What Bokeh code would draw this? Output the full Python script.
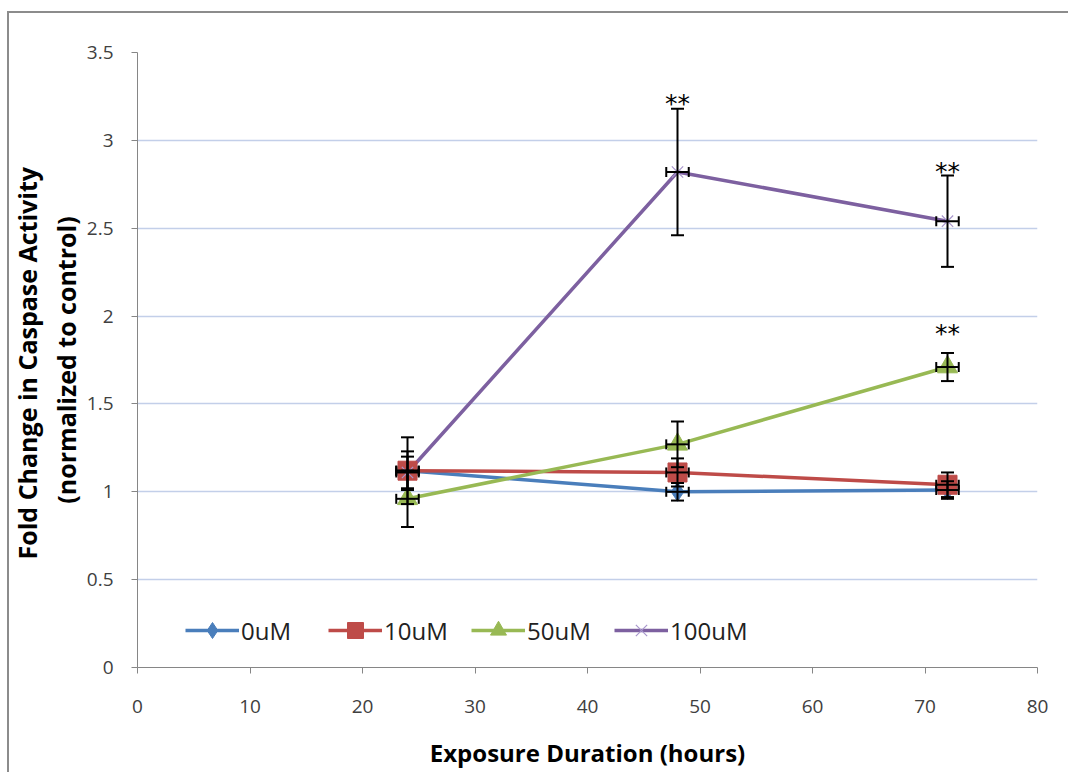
from bokeh.plotting import figure
from bokeh.models import (ColumnDataSource, Whisker, TeeHead, FixedTicker, Legend,
                          LegendItem, Range1d)
from bokeh.embed import file_html
from bokeh.resources import INLINE
from bokeh.core.properties import value

# ---------------- data ----------------
hours = [24, 48, 72]
hour_err = [1, 1, 1]

uM0 = [1.12, 1.00, 1.01]
uM0_err = [0.11, 0.05, 0.05]
uM10 = [1.12, 1.11, 1.04]
uM10_err = [0.19, 0.08, 0.07]
uM50 = [0.96, 1.27, 1.71]
uM50_err = [0.16, 0.13, 0.08]
uM100 = [1.11, 2.82, 2.54]
uM100_err = [0.09, 0.36, 0.26]

series_names = ["0uM", "10uM", "50uM", "100uM"]

sig_x = [48, 72, 72]
sig_y = [3.21, 2.82, 1.90]
sig_text = ["**", "**", "**"]

y_ticks = [0, 0.5, 1, 1.5, 2, 2.5, 3, 3.5]
y_tick_labels = ["0", "0.5", "1", "1.5", "2", "2.5", "3", "3.5"]
x_ticks = [0, 10, 20, 30, 40, 50, 60, 70, 80]

# ---------------- figure ----------------
FONT = "Open Sans"
p = figure(width=1068, height=772, output_backend="svg", toolbar_location=None,
           x_range=Range1d(0, 80), y_range=Range1d(0, 3.5),
           min_border_left=137, min_border_right=31, min_border_top=52,
           min_border_bottom=105)
p.outline_line_color = None
p.background_fill_color = "white"
p.border_fill_color = None
p.styles = {
    "background": ("linear-gradient(#8c8c8c,#8c8c8c) 7px 11px / 2px calc(100% - 11px) no-repeat, "
                   "linear-gradient(#8c8c8c,#8c8c8c) 7px 11px / calc(100% - 7px) 2px no-repeat, "
                   "white")
}

p.xgrid.grid_line_color = None
p.ygrid.grid_line_color = "#c3cfe9"
p.ygrid.grid_line_width = 1.5
p.ygrid.ticker = FixedTicker(ticks=y_ticks)

p.yaxis.ticker = FixedTicker(ticks=y_ticks)
p.yaxis.major_label_overrides = {t: l for t, l in zip(y_ticks, y_tick_labels)}
p.xaxis.ticker = FixedTicker(ticks=x_ticks)

for ax in (p.xaxis[0], p.yaxis[0]):
    ax.axis_line_color = "#868686"
    ax.axis_line_width = 1
    ax.major_tick_line_color = "#868686"
    ax.major_tick_in = 0
    ax.major_tick_out = 6
    ax.minor_tick_line_color = None
    ax.major_label_text_font = FONT
    ax.major_label_text_font_size = "19px"
    ax.major_label_text_color = "#404040"
    ax.axis_label_text_font = FONT
    ax.axis_label_text_font_style = "bold"
    ax.axis_label_text_color = "black"

p.yaxis.axis_label_text_font_size = "25px"
p.xaxis.axis_label_text_font_size = "24px"
p.yaxis.axis_label_text_line_height = 1.15
p.yaxis.major_label_standoff = 18
p.xaxis.major_label_standoff = 26
p.yaxis.axis_label = "Fold Change in Caspase  Activity\n(normalized to control)"
p.xaxis.axis_label = "Exposure Duration (hours)"
p.yaxis.axis_label_standoff = 1
p.xaxis.axis_label_standoff = 20

colors = ["#4a7ebb", "#be4b48", "#98b954", "#7d60a0"]
vals = [uM0, uM10, uM50, uM100]
errs = [uM0_err, uM10_err, uM50_err, uM100_err]

items = []
series = []
for name, c, v in zip(series_names, colors, vals):
    src = ColumnDataSource(dict(x=hours, y=v))
    ln = p.line("x", "y", source=src, line_color=c, line_width=3.5)
    series.append((name, c, src, ln))

for (name, c, src, ln) in series:
    if name == "0uM":
        m = p.scatter("x", "y", source=src, marker="diamond", size=19,
                      fill_color=c, line_color=c)
    elif name == "10uM":
        m = p.scatter("x", "y", source=src, marker="square", size=19,
                      fill_color=c, line_color=c)
    elif name == "50uM":
        m = p.scatter("x", "y", source=src, marker="triangle", size=20,
                      fill_color=c, line_color=c)
    else:
        m = p.scatter("x", "y", source=src, marker="x", size=16,
                      line_color="#a896cc", line_width=1.2)
    items.append(LegendItem(label=name, renderers=[ln, m]))

# error bars
for v, e in zip(vals, errs):
    es = ColumnDataSource(dict(
        x=hours, y=v,
        up=[a + b for a, b in zip(v, e)], lo=[a - b for a, b in zip(v, e)],
        xl=[h - d for h, d in zip(hours, hour_err)],
        xu=[h + d for h, d in zip(hours, hour_err)]))
    p.add_layout(Whisker(source=es, base="x", upper="up", lower="lo",
                         dimension="height", line_color="black", line_width=2,
                         level="overlay",
                         upper_head=TeeHead(size=13, line_width=2, line_color="black"),
                         lower_head=TeeHead(size=13, line_width=2, line_color="black")))
    p.add_layout(Whisker(source=es, base="y", upper="xu", lower="xl",
                         dimension="width", line_color="black", line_width=2,
                         level="overlay",
                         upper_head=TeeHead(size=10, line_width=2, line_color="black"),
                         lower_head=TeeHead(size=10, line_width=2, line_color="black")))

sig_src = ColumnDataSource(dict(x=sig_x, y=sig_y, t=sig_text))
p.text("x", "y", text="t", source=sig_src, text_align="center",
       text_baseline="middle", text_font=value("DejaVu Sans"),
       text_font_size="25px", text_color="black")

legend = Legend(items=items, orientation="horizontal", location=(48, 17),
                glyph_width=54, glyph_height=40, label_standoff=2,
                label_width=75, spacing=12, padding=0, margin=0,
                label_text_font=FONT, label_text_font_size="24px",
                label_text_color="#222222",
                background_fill_alpha=0, border_line_alpha=0)
p.add_layout(legend)

open("out.html", "w").write(file_html(p, INLINE))
